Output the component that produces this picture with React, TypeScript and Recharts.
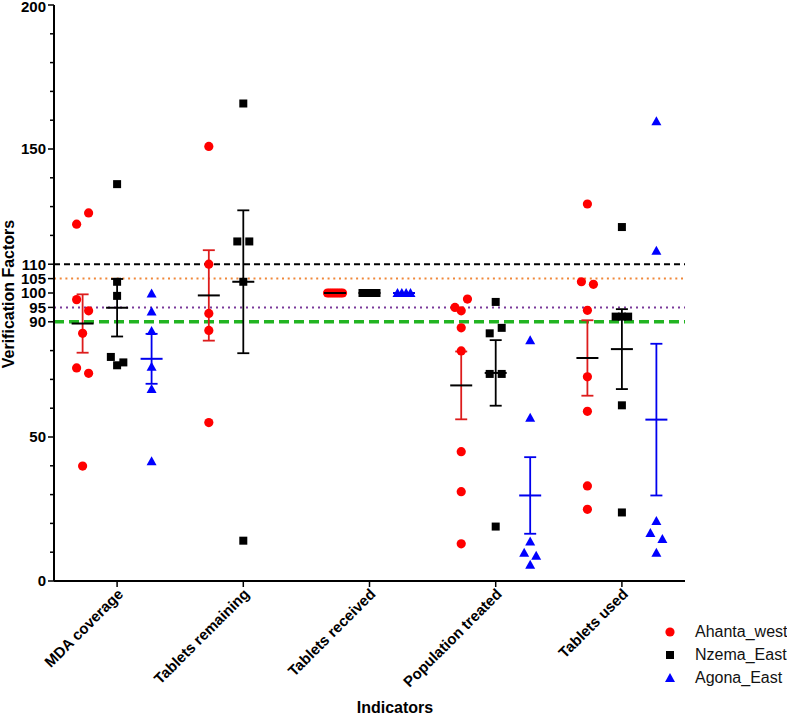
import React from 'react';
import { ScatterChart, Scatter, XAxis, YAxis, ReferenceLine, ErrorBar } from 'recharts';

const indicators = ['MDA coverage', 'Tablets remaining', 'Tablets received', 'Population treated', 'Tablets used'];
const districts = ['Ahanta_west', 'Nzema_East', 'Agona_East'];

// one list per indicator, same order as `indicators`
const ahantaWest = [
  [123.9, 127.8, 97.7, 93.8, 86.0, 74.0, 72.1, 39.9],
  [150.9, 110.0, 92.9, 87.0, 55.0],
  [100, 100, 100, 100, 100, 100, 100, 100],
  [95.0, 93.8, 97.9, 87.9, 79.9, 44.9, 31.0, 12.9],
  [130.9, 103.9, 103.0, 94.0, 70.9, 58.9, 33.0, 24.9],
];
const nzemaEast = [
  [137.8, 103.9, 99.0, 77.8, 74.9, 75.9],
  [165.8, 117.9, 117.9, 103.9, 14.0],
  [100, 100, 100, 100, 100, 100],
  [96.9, 86.0, 87.9, 71.9, 71.9, 18.9],
  [122.9, 91.8, 91.8, 91.8, 61.0, 23.8],
];
const agonaEast = [
  [99.8, 93.6, 86.8, 74.4, 66.7, 41.6],
  [],
  [100, 100, 100, 100],
  [83.6, 56.7, 13.7, 9.8, 8.8, 5.6],
  [159.6, 114.7, 20.8, 16.7, 14.6, 9.8],
];

const thresholds = [110, 105, 95, 90];
const labelledTicks = [0, 50, 90, 95, 100, 105, 110, 150, 200];
const minorTicks = [10, 20, 30, 40, 60, 70, 80, 120, 130, 140, 160, 170, 180, 190];

const FONT = '"Liberation Sans", Arial, Helvetica, sans-serif';
const BAND_PX = 126.25; // px per category on the x axis
const GROUP_SHIFT = [-34.5, 0, 34.5];
const dotColors = ['#FF0000', '#000000', '#0000FF'];
const barColors = ['#DD1C1C', '#000000', '#0000EE'];
const meanColors = ['#000000', '#000000', '#0000EE'];
const thresholdStyles = [
  { stroke: '#000000', strokeWidth: 2, strokeDasharray: '6 4' },
  { stroke: '#F0883A', strokeWidth: 2, strokeDasharray: '2 3.7' },
  { stroke: '#7A3A9A', strokeWidth: 2, strokeDasharray: '2 4' },
  { stroke: '#22B422', strokeWidth: 3.5, strokeDasharray: '10 5' },
];

// prism-like scatter: values that sit close together get spread sideways (px)
function spread(values: number[]) {
  const order = values.map((_, i) => i).sort((a, b) => values[a] - values[b]);
  const clusters = order.map((i) => [i]);
  for (;;) {
    let best = -1;
    let bestSpan = Infinity;
    for (let j = 0; j < clusters.length - 1; j++) {
      const next = clusters[j + 1];
      const span = values[next[next.length - 1]] - values[clusters[j][0]];
      if (span < 4.15 && span < bestSpan) {
        best = j;
        bestSpan = span;
      }
    }
    if (best < 0) break;
    clusters.splice(best, 2, clusters[best].concat(clusters[best + 1]));
  }
  const off = values.map(() => 0);
  clusters.forEach((c) => {
    if (c.length < 2) return;
    const members = [...c].sort((a, b) => a - b);
    const step = (11 + 0.5 * members.length) / (members.length - 1);
    members.forEach((idx, r) => {
      off[idx] = (r - (members.length - 1) / 2) * step;
    });
  });
  return off;
}

const groups = [ahantaWest, nzemaEast, agonaEast];

const points = groups.map((g, gi) =>
  g.flatMap((vals, c) => {
    const off = spread(vals);
    return vals.map((v, i) => ({ x: c + (GROUP_SHIFT[gi] + off[i]) / BAND_PX, y: v }));
  })
);

const means = groups.map((g, gi) =>
  g
    .map((vals, c) => {
      if (!vals.length) return null;
      const n = vals.length;
      const mean = vals.reduce((s, v) => s + v, 0) / n;
      const sd = n > 1 ? Math.sqrt(vals.reduce((s, v) => s + (v - mean) ** 2, 0) / (n - 1)) : 0;
      return { x: c + GROUP_SHIFT[gi] / BAND_PX, y: mean, sem: sd / Math.sqrt(n) };
    })
    .filter(Boolean)
);

const Marker = ({ kind, cx, cy, color }: any) => {
  if (kind === 0) return <circle cx={cx} cy={cy} r={4.6} fill={color} />;
  if (kind === 1) return <rect x={cx - 4} y={cy - 4} width={8} height={8} fill={color} />;
  return <polygon points={`${cx},${cy - 5} ${cx + 5},${cy + 4} ${cx - 5},${cy + 4}`} fill={color} />;
};

const ValueTick = ({ x, y, payload }: any) => {
  const axisX = x + 8;
  const labelled = labelledTicks.includes(payload.value);
  return (
    <g>
      <line x1={axisX - (labelled ? 6 : 4)} x2={axisX} y1={y} y2={y} stroke="#000" strokeWidth={1.5} />
      {labelled && (
        <text
          x={x}
          y={payload.value === 200 ? y + 2 : y}
          dy="0.36em"
          textAnchor="end"
          fontFamily={FONT}
          fontWeight="bold"
          fontSize={15}
          fill="#000"
        >
          {payload.value}
        </text>
      )}
    </g>
  );
};

const CategoryTick = ({ x, y, payload }: any) => (
  <text
    transform={`translate(${x + 7},${y + 6}) rotate(-45)`}
    textAnchor="end"
    fontFamily={FONT}
    fontWeight="bold"
    fontSize={15}
    fill="#000"
  >
    {indicators[payload.value]}
  </text>
);

export default function App() {
  const yTicks = [...labelledTicks, ...minorTicks].sort((a, b) => a - b);
  return (
    <div style={{ position: 'absolute', left: 0, top: 0, width: 787, height: 719, background: '#fff', fontFamily: FONT }}>
      <ScatterChart width={787} height={719} margin={{ top: 5, right: 102, bottom: 38, left: 0 }}>
        <XAxis
          type="number"
          dataKey="x"
          domain={[-0.5, 4.5]}
          ticks={[0, 1, 2, 3, 4]}
          interval={0}
          height={100}
          tick={<CategoryTick />}
          tickSize={6}
          axisLine={{ stroke: '#000', strokeWidth: 2 }}
          tickLine={{ stroke: '#000', strokeWidth: 1.5 }}
        />
        <YAxis
          type="number"
          dataKey="y"
          domain={[0, 200]}
          ticks={yTicks}
          interval={0}
          width={54}
          tick={<ValueTick />}
          tickLine={false}
          axisLine={{ stroke: '#000', strokeWidth: 2 }}
        />
        {thresholds.map((t, i) => (
          <ReferenceLine key={t} y={t} {...thresholdStyles[i]} />
        ))}
        {points.map((data, gi) => (
          <Scatter
            key={districts[gi]}
            name={districts[gi]}
            data={data}
            isAnimationActive={false}
            shape={(p: any) => <Marker kind={gi} cx={p.cx} cy={p.cy} color={dotColors[gi]} />}
          />
        ))}
        {means.map((data, gi) => (
          <Scatter
            key={'mean-' + gi}
            data={data as any[]}
            isAnimationActive={false}
            shape={(p: any) => (
              <line x1={p.cx - 11} x2={p.cx + 11} y1={p.cy} y2={p.cy} stroke={meanColors[gi]} strokeWidth={2} />
            )}
          >
            <ErrorBar dataKey="sem" direction="y" width={6} stroke={barColors[gi]} strokeWidth={1.8} isAnimationActive={false} />
          </Scatter>
        ))}
      </ScatterChart>

      <div
        style={{
          position: 'absolute',
          left: 9,
          top: 294,
          transform: 'translate(-50%, -50%) rotate(-90deg)',
          whiteSpace: 'nowrap',
          fontWeight: 'bold',
          fontSize: 16,
          lineHeight: '16px',
        }}
      >
        Verification Factors
      </div>
      <div
        style={{
          position: 'absolute',
          left: 395,
          top: 708,
          transform: 'translate(-50%, -50%)',
          whiteSpace: 'nowrap',
          fontWeight: 'bold',
          fontSize: 16,
        }}
      >
        Indicators
      </div>

      <div style={{ position: 'absolute', left: 660, top: 620 }}>
        {districts.map((d, gi) => (
          <div key={d} style={{ display: 'flex', alignItems: 'center', height: 23, fontSize: 16, color: '#111' }}>
            <svg width={22} height={14} style={{ marginRight: 13 }}>
              <Marker kind={gi} cx={10} cy={7} color={dotColors[gi]} />
            </svg>
            {d}
          </div>
        ))}
      </div>
    </div>
  );
}
